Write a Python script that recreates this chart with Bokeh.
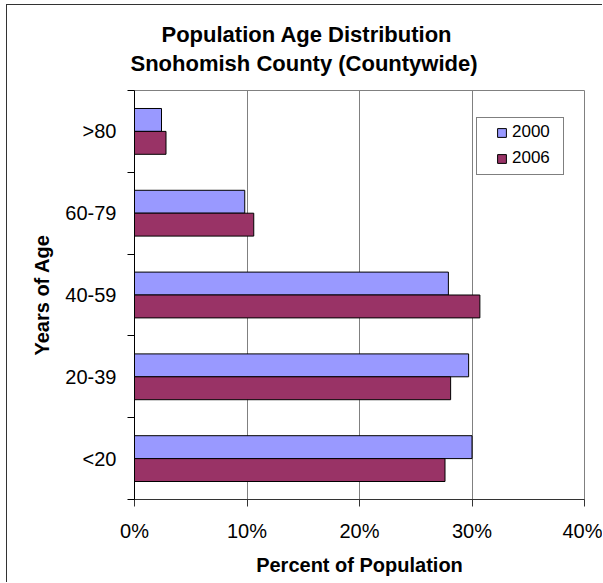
from bokeh.plotting import figure
from bokeh.models import ColumnDataSource, Range1d, FixedTicker, PrintfTickFormatter, Title
from bokeh.transform import dodge
from bokeh.embed import file_html
from bokeh.resources import INLINE

# Age groups, bottom to top
age_groups = ["<20", "20-39", "40-59", "60-79", ">80"]
pct_2000 = [30.0, 29.7, 27.9, 9.8, 2.4]
pct_2006 = [27.6, 28.1, 30.7, 10.6, 2.8]
x_ticks = [0, 10, 20, 30, 40]

FONT = "Liberation Sans"
C2000 = "#9999FF"
C2006 = "#993366"

positions = [i + 0.5 for i in range(len(age_groups))]
source = ColumnDataSource(dict(pos=positions, group=age_groups, y2000=pct_2000, y2006=pct_2006))

# the page draws the chart-area border on the left and top edges
p = figure(width=596, height=578, output_backend="svg", toolbar_location=None,
           x_range=Range1d(0, 40), y_range=Range1d(0, len(age_groups)),
           min_border_left=127, min_border_right=19, min_border_top=85, min_border_bottom=84,
           margin=(4, 0, 0, 6),
           styles={"border-left": "1.5px solid #333333", "border-top": "1.5px solid #333333"})
p.background_fill_color = "white"
p.border_fill_color = "white"
p.outline_line_color = "#808080"
p.outline_line_width = 1

bar_h = 0.28
p.hbar(y=dodge("pos", bar_h / 2, range=p.y_range), right="y2000", left=0, height=bar_h,
       source=source, fill_color=C2000, line_color="black", line_width=1,
       legend_label="2000")
p.hbar(y=dodge("pos", -bar_h / 2, range=p.y_range), right="y2006", left=0, height=bar_h,
       source=source, fill_color=C2006, line_color="black", line_width=1,
       legend_label="2006")

# x axis: percent scale
xa = p.xaxis[0]
xa.ticker = FixedTicker(ticks=x_ticks)
xa.formatter = PrintfTickFormatter(format="%d%%")
xa.major_tick_out = 7
xa.major_tick_in = 0
xa.minor_tick_out = 0
xa.minor_tick_in = 0
xa.axis_line_color = "#333333"
xa.major_tick_line_color = "#333333"
xa.major_label_text_font = FONT
xa.major_label_text_font_size = "20px"
xa.major_label_text_color = "black"
xa.major_label_standoff = 13
xa.axis_label = "Percent of Population"
xa.axis_label_text_font = FONT
xa.axis_label_text_font_size = "20px"
xa.axis_label_text_font_style = "bold"
xa.axis_label_text_color = "black"
xa.axis_label_standoff = 9

# y axis: labels centred on each group, ticks on the group boundaries
ya = p.yaxis[0]
ya.ticker = FixedTicker(ticks=positions, minor_ticks=list(range(len(age_groups) + 1)))
ya.major_label_overrides = {pos: g for pos, g in zip(positions, age_groups)}
ya.major_tick_out = 0
ya.major_tick_in = 0
ya.minor_tick_out = 7
ya.minor_tick_in = 0
ya.minor_tick_line_color = "black"
ya.axis_line_color = "black"
ya.major_label_text_font = FONT
ya.major_label_text_font_size = "20px"
ya.major_label_text_color = "black"
ya.major_label_standoff = 11
ya.axis_label = "Years of Age"
ya.axis_label_text_font = FONT
ya.axis_label_text_font_size = "20px"
ya.axis_label_text_font_style = "bold"
ya.axis_label_text_color = "black"
ya.axis_label_standoff = 9

p.xgrid.grid_line_color = "#808080"
p.xgrid.grid_line_width = 1
p.ygrid.grid_line_color = None

# legend
lg = p.legend[0]
lg.location = (342, 324)
lg.padding = (19, 13, 4, 6)
lg.spacing = 6
lg.glyph_width = 11
lg.glyph_height = 11
lg.label_height = 20
lg.label_standoff = 5
lg.label_text_font = FONT
lg.label_text_font_size = "17px"
lg.label_text_color = "black"
lg.border_line_color = "black"
lg.border_line_width = 1
lg.background_fill_color = "white"
lg.background_fill_alpha = 1

# two-line chart title (the line added first sits next to the plot)
for txt, off, stand in [("Snohomish County (Countywide)", -4, 30),
                        ("Population Age Distribution", 27, -27)]:
    p.add_layout(Title(text=txt, align="left", offset=off, standoff=stand,
                       text_font=FONT, text_font_size="22px", text_font_style="bold",
                       text_color="black"), "above")

open("out.html", "w").write(file_html(p, INLINE))
